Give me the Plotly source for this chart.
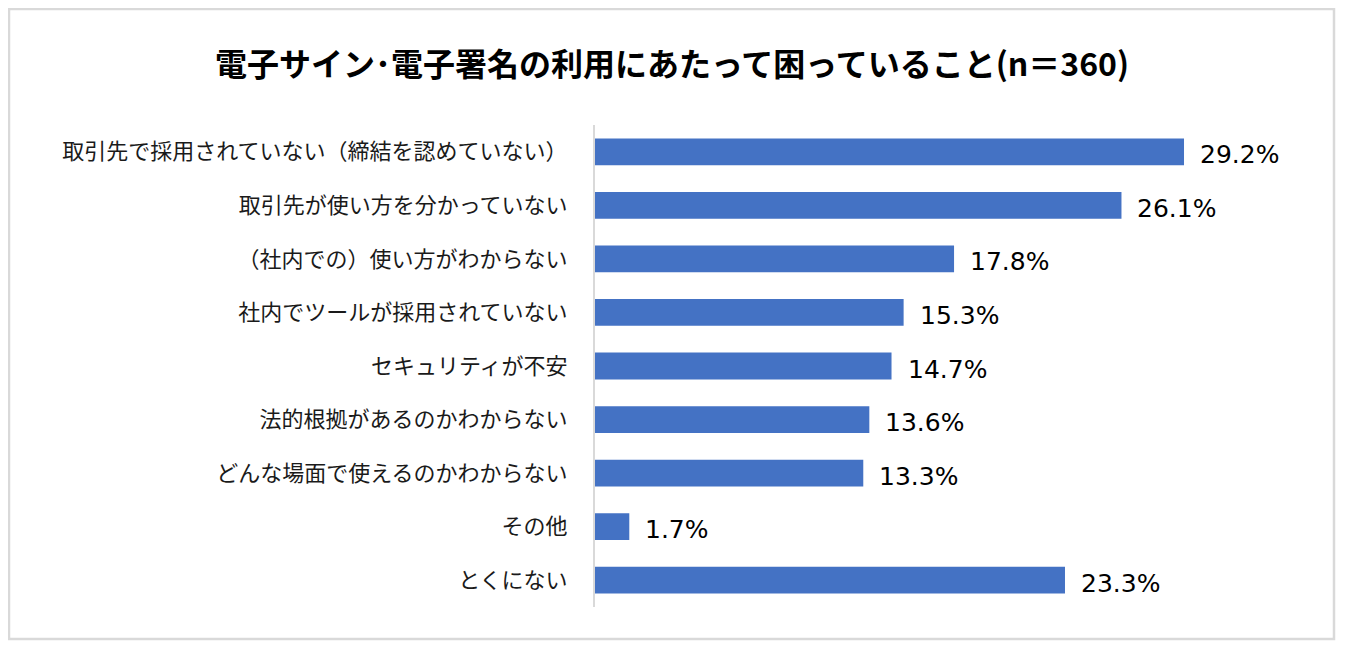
import plotly.graph_objects as go

categories = [
    "取引先で採用されていない（締結を認めていない）",
    "取引先が使い方を分かっていない",
    "（社内での）使い方がわからない",
    "社内でツールが採用されていない",
    "セキュリティが不安",
    "法的根拠があるのかわからない",
    "どんな場面で使えるのかわからない",
    "その他",
    "とくにない",
]
values = [29.2, 26.1, 17.8, 15.3, 14.7, 13.6, 13.3, 1.7, 23.3]
value_labels = ["29.2%", "26.1%", "17.8%", "15.3%", "14.7%", "13.6%", "13.3%", "1.7%", "23.3%"]
title_text = "電子サイン･電子署名の利用にあたって困っていること(n＝360)"

# page body has an 8px margin; work in reference pixels and subtract it
OFF = 8
W, H = 1329, 633
L, R, T, B = 595 - OFF, 1301 - OFF, 125 - OFF, 607 - OFF
XMAX = 35

fig = go.Figure()
fig.add_trace(go.Bar(
    x=values, y=categories, orientation="h",
    marker=dict(color="#4472C4", line=dict(width=0)),
    hoverinfo="skip",
))

annotations = []
for v, c, t in zip(values, categories, value_labels):
    annotations.append(dict(
        x=v, y=c, xref="x", yref="y", text=t, showarrow=False,
        xanchor="left", yanchor="middle", xshift=14, yshift=-3,
        font=dict(family="DejaVu Sans", size=25, color="#000000"),
    ))

pw, ph = R - L, B - T
def px_x(p):
    return (p - OFF - L) / pw
def px_y(p):
    return (B - (p - OFF)) / ph

shapes = [dict(
    type="rect", xref="paper", yref="paper",
    x0=px_x(9), x1=px_x(1334), y0=px_y(639), y1=px_y(9),
    line=dict(color="#D9D9D9", width=2.5), fillcolor="rgba(0,0,0,0)",
    layer="below",
)]

fig.update_layout(
    width=W, height=H,
    margin=dict(l=L, r=W - R, t=T, b=H - B, pad=0),
    paper_bgcolor="white", plot_bgcolor="white",
    showlegend=False,
    bargap=0.5,
    title=dict(
        text=title_text, x=(672 - OFF) / W, xref="container", xanchor="center",
        y=1 - (65 - OFF) / H, yref="container", yanchor="middle",
        font=dict(family="Noto Sans CJK JP", size=32, color="#000000", weight="bold"),
    ),
    xaxis=dict(range=[0, XMAX], visible=False, fixedrange=True),
    yaxis=dict(
        autorange="reversed", showgrid=False, zeroline=False,
        showline=True, linecolor="#D9D9D9", linewidth=2,
        ticks="outside", ticklen=0, ticklabelstandoff=21,
        tickfont=dict(family="Noto Sans CJK JP", size=22, color="#1A1A1A"),
        fixedrange=True,
    ),
    annotations=annotations,
    shapes=shapes,
)

fig.write_html("out.html")
